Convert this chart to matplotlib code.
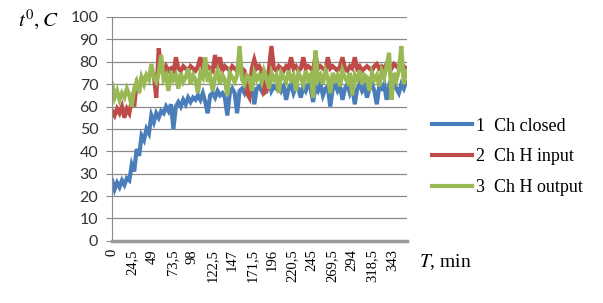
import matplotlib
matplotlib.use("Agg")
import matplotlib.pyplot as plt
import numpy as np

plt.rcParams["mathtext.fontset"] = "stix"

# sampling grid of the record, min
step = 3

closed = [27, 23, 26, 24, 27, 25, 28, 27, 34, 31, 41, 38, 47, 45, 50, 48, 56, 53, 57, 55,
          58, 57, 60, 58, 61, 50, 60, 62, 60, 63, 61, 64, 62, 64, 63, 65, 63, 66, 62, 57,
          65, 66, 64, 67, 65, 66, 64, 56, 66, 68, 66, 57, 67, 68, 66, 69, 67, 70, 61, 68,
          69, 67, 70, 68, 73, 67, 69, 68, 70, 67, 69, 63, 68, 70, 66, 69, 68, 64, 69, 67,
          70, 68, 62, 69, 67, 70, 65, 68, 69, 60, 68, 70, 67, 69, 63, 68, 70, 66, 69, 61,
          68, 70, 67, 69, 64, 68, 70, 67, 61, 69, 68, 70, 63, 69, 67, 70, 68, 66, 70, 68,
          71]
h_input = [58, 56, 59, 57, 60, 55, 59, 57, 63, 60, 70, 68, 73, 71, 74, 73, 76, 74, 64, 86,
           77, 75, 78, 76, 77, 75, 82, 77, 76, 78, 77, 76, 78, 77, 76, 78, 82, 77, 76, 78,
           77, 76, 83, 77, 82, 76, 78, 77, 76, 78, 77, 76, 78, 77, 76, 66, 64, 77, 81, 77,
           78, 76, 66, 67, 77, 87, 77, 76, 78, 77, 76, 78, 77, 82, 77, 78, 76, 77, 82, 77,
           78, 77, 76, 83, 77, 78, 77, 76, 82, 77, 78, 77, 76, 78, 82, 77, 76, 78, 77, 82,
           77, 78, 76, 77, 78, 77, 76, 78, 79, 77, 78, 77, 79, 78, 77, 79, 78, 77, 79, 78,
           77]
h_output = [70, 64, 67, 63, 66, 64, 68, 65, 60, 68, 71, 66, 73, 70, 74, 72, 79, 73, 71, 75,
            83, 72, 74, 67, 76, 72, 74, 68, 75, 71, 73, 77, 70, 74, 72, 66, 75, 73, 82, 71,
            74, 67, 73, 76, 70, 74, 72, 65, 75, 73, 71, 74, 87, 72, 70, 74, 73, 67, 75, 72,
            74, 71, 76, 73, 68, 75, 72, 74, 66, 75, 73, 71, 76, 72, 74, 67, 75, 73, 70, 76,
            72, 74, 64, 85, 72, 74, 70, 76, 73, 66, 75, 72, 74, 69, 76, 73, 71, 75, 65, 74,
            72, 76, 70, 74, 73, 67, 75, 72, 74, 69, 76, 73, 78, 84, 63, 75, 72, 76, 87, 70,
            76]

labels = ["1  Ch closed", "2  Ch H input", "3  Ch H output"]
colors = ["#4a7ebb", "#be4b48", "#98b954"]
tick_vals = [0, 24.5, 49, 73.5, 98, 122.5, 147, 171.5, 196, 220.5, 245, 269.5, 294, 318.5, 343]

t = np.arange(len(closed)) * step

fig = plt.figure(figsize=(6.03, 3.03), dpi=100)
ax = fig.add_axes([0.186, 0.205, 0.489, 0.739])

for y, c, lab in zip([closed, h_input, h_output], colors, labels):
    ax.plot(t, y, color=c, lw=3, label=lab, solid_joinstyle="miter")

ax.set_xlim(0, 361)
ax.set_ylim(0, 100)
ax.set_yticks(range(0, 101, 10))
ax.yaxis.grid(True, color="#8a8a8a", lw=0.9)
ax.set_axisbelow(True)
ax.set_xticks(tick_vals)
ax.set_xticklabels([f"{v:g}".replace(".", ",") for v in tick_vals], rotation=90,
                   family="Liberation Serif", fontsize=10.5)
for lab in ax.get_yticklabels():
    lab.set_family("Lato")
    lab.set_fontsize(11.5)
    lab.set_color("#333333")
ax.tick_params(axis="y", length=4, color="#8a8a8a", pad=6)
ax.tick_params(axis="x", length=0, pad=6)
for s in ["top", "right"]:
    ax.spines[s].set_visible(False)
ax.spines["left"].set_color("#8a8a8a")
ax.spines["bottom"].set_color("#9a9a9a")
ax.spines["bottom"].set_linewidth(2.5)

fig.text(0.03, 0.935, r"$t^{0}, C$", fontsize=15, ha="left", va="center")
fig.text(0.695, 0.135, r"$T$, min", fontsize=14, family="Liberation Serif",
         ha="left", va="center")

fig.legend(loc="upper left", bbox_to_anchor=(0.69, 0.665), frameon=False,
           prop={"family": "Liberation Serif", "size": 13},
           handlelength=2.2, handletextpad=0.2, labelspacing=0.75)

fig.savefig("out.png", dpi=100)
